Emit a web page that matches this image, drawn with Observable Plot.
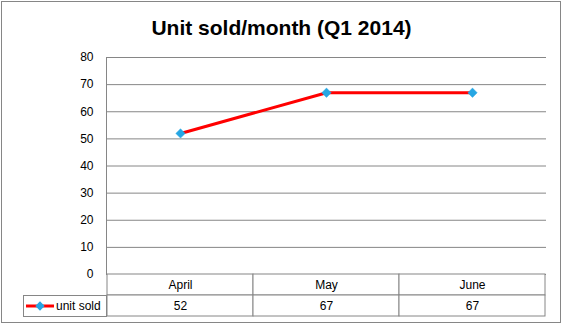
<!DOCTYPE html>
<html>
<head>
<meta charset="utf-8">
<script src="https://cdn.jsdelivr.net/npm/d3@7"></script>
<script src="https://cdn.jsdelivr.net/npm/@observablehq/plot@0.6"></script>
<style>
  html, body { margin: 0; padding: 0; background: #fff; }
  #wrap { position: relative; width: 563px; height: 325px; }
  #border { position: absolute; left: 1px; top: 1px; width: 558px; height: 320px; border: 1px solid #868686; pointer-events: none; }
  #title { position: absolute; left: 0; top: 15px; width: 563px; text-align: center; font: bold 21px "Liberation Sans", Arial, sans-serif; color: #000; line-height: 26px; }
  #wrap svg text { fill: #000; }
</style>
</head>
<body>
<div id="wrap"><div id="title"></div><div id="border"></div></div>
<script>
const title = "Unit sold/month (Q1 2014)";
const seriesName = "unit sold";
const months = ["April", "May", "June"];
const units = [52, 67, 67];
const yTicks = [0, 10, 20, 30, 40, 50, 60, 70, 80];

const data = months.map((m, i) => ({month: m, units: units[i]}));

const grid = "#868686";
const lineColor = "#ff0000";
const markerColor = "#26a6e3";
const font = "Liberation Sans, Arial, sans-serif";
const rowH = 21;

document.getElementById("title").textContent = title;

const chart = Plot.plot({
  width: 563,
  height: 325,
  marginTop: 57,
  marginBottom: 51,
  marginLeft: 106,
  marginRight: 17,
  style: {fontFamily: font, fontSize: "12px", color: grid, background: "transparent", overflow: "visible"},
  x: {type: "band", domain: months, padding: 0, axis: null},
  y: {domain: [0, 80], ticks: yTicks, tickSize: 0, tickPadding: 13, line: true, label: null, tickFormat: d => d},
  marks: [
    Plot.ruleY(yTicks, {stroke: grid, strokeWidth: 1}),
    // data table: category row
    Plot.barY(data, {x: "month", y1: 0, y2: 0, insetTop: 0, insetBottom: -rowH, fill: "white", stroke: grid}),
    // data table: value row
    Plot.barY(data, {x: "month", y1: 0, y2: 0, insetTop: rowH, insetBottom: -2 * rowH, fill: "white", stroke: grid}),
    Plot.text(data, {x: "month", y: 0, text: "month", dy: rowH / 2, lineAnchor: "middle", fill: "#000", fontSize: 12}),
    Plot.text(data, {x: "month", y: 0, text: d => String(d.units), dy: rowH * 1.5, lineAnchor: "middle", fill: "#000", fontSize: 12}),
    // series
    Plot.line(data, {x: "month", y: "units", stroke: lineColor, strokeWidth: 3}),
    Plot.dot(data, {x: "month", y: "units", symbol: "diamond2", r: 4.2, fill: markerColor, stroke: markerColor, strokeWidth: 0.5})
  ]
});

document.getElementById("wrap").insertBefore(chart, document.getElementById("title"));

// legend cell of the data table
const xs = chart.scale("x"), ys = chart.scale("y");
const left = xs.range[0];
const top2 = ys.apply(0) + rowH;
const cellW = 83;
const svg = d3.select(chart);
const g = svg.append("g").attr("aria-label", "legend");
g.append("rect").attr("x", left - cellW + 0.5).attr("y", top2 + 0.5).attr("width", cellW).attr("height", rowH)
  .attr("fill", "white").attr("stroke", grid);
const cy = top2 + rowH / 2 + 0.5;
const lx0 = left - cellW + 3, lx1 = lx0 + 28;
g.append("line").attr("x1", lx0).attr("x2", lx1).attr("y1", cy).attr("y2", cy).attr("stroke", lineColor).attr("stroke-width", 3);
g.append("path").attr("transform", `translate(${(lx0 + lx1) / 2},${cy})`)
  .attr("d", d3.symbol(d3.symbolDiamond2, Math.PI * 4.2 * 4.2)()).attr("fill", markerColor);
g.append("text").attr("x", lx1 + 2).attr("y", cy).attr("dy", "0.35em").attr("text-anchor", "start")
  .attr("font-size", 12).attr("fill", "#000").text(seriesName);
</script>
</body>
</html>
